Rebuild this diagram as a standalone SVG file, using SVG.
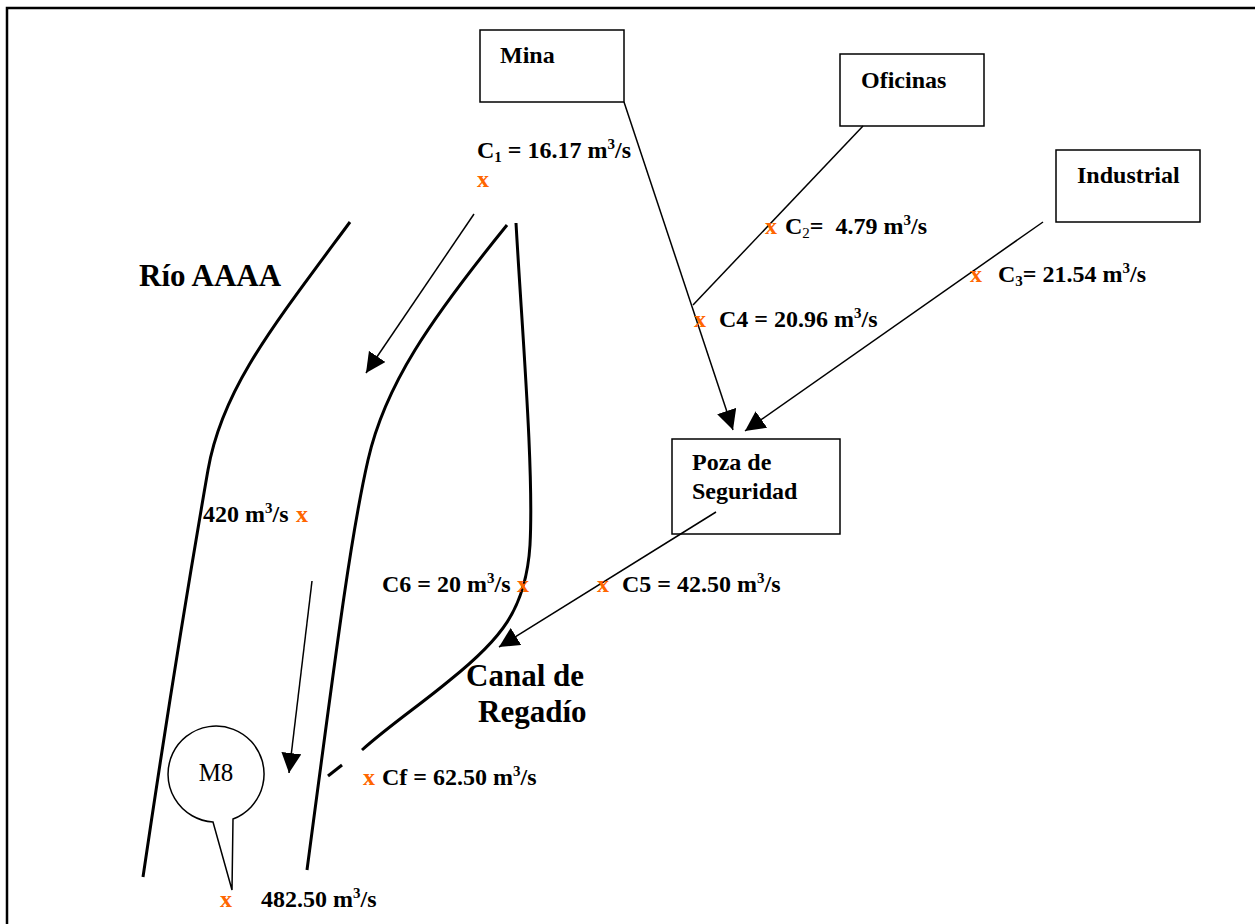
<svg xmlns="http://www.w3.org/2000/svg" width="1255" height="924" viewBox="0 0 1255 924">
<defs>
<style>
.box{fill:#fff;stroke:#000;stroke-width:1.5}
.lbl{font-family:"Liberation Serif","Times New Roman",serif;font-weight:bold;font-size:24px;fill:#000}
.big{font-family:"Liberation Serif","Times New Roman",serif;font-weight:bold;font-size:31px;fill:#000}
.x{font-family:"Liberation Serif","Times New Roman",serif;font-weight:bold;font-size:24px;fill:#ff6600}
.con{fill:none;stroke:#000;stroke-width:1.5}
.bank{fill:none;stroke:#000;stroke-width:3}
.sup{font-size:15px}
</style>
<marker id="ah" viewBox="0 0 10 10" refX="10" refY="5" markerWidth="20" markerHeight="20" markerUnits="userSpaceOnUse" orient="auto">
<path d="M0,0 L10,5 L0,10 z" fill="#000"/>
</marker>
</defs>
<rect width="1255" height="924" fill="#fff"/>
<path d="M7,924 L7,8 L1255,8" fill="none" stroke="#000" stroke-width="2.5"/>

<g id="river">
<path class="bank" d="M350,222 C270,330 222,390 208,470 C195,545 175,660 143,877"/>
<path class="bank" d="M507,225 C430,320 385,385 368,460 C352,530 340,620 307,870"/>
<path class="bank" d="M516,223 C522,330 534,470 530,545 C526,610 500,640 450,680 C420,705 390,725 362,750"/>
<path class="bank" d="M328,776 L342,765"/>
<text class="big" x="139" y="286">Río AAAA</text>
<text class="big" x="466" y="686">Canal de</text>
<text class="big" x="478" y="722">Regadío</text>
</g>

<g id="mina">
<rect class="box" x="480" y="30" width="144" height="72"/>
<text class="lbl" x="500" y="63">Mina</text>
</g>
<g id="oficinas">
<rect class="box" x="840" y="54" width="144" height="72"/>
<text class="lbl" x="861" y="88">Oficinas</text>
</g>
<g id="industrial">
<rect class="box" x="1056" y="150" width="144" height="72"/>
<text class="lbl" x="1077" y="183">Industrial</text>
</g>
<g id="poza">
<rect class="box" x="672" y="439" width="168" height="95"/>
<text class="lbl" x="692" y="470">Poza de</text>
<text class="lbl" x="692" y="499">Seguridad</text>
</g>

<g id="m8">
<path d="M213,822 A48,48 0 1 1 233,819 L232,890 Z" fill="#fff" stroke="#000" stroke-width="1.5"/>
<text x="216" y="781" text-anchor="middle" font-family="Liberation Serif, Times New Roman, serif" font-size="25">M8</text>
</g>

<g id="connectors">
<path class="con" d="M624,102 L733,430" marker-end="url(#ah)"/>
<path class="con" d="M863,126 L693,305"/>
<path class="con" d="M1043,222 L745,431" marker-end="url(#ah)"/>
<path class="con" d="M716,512 L499,647" marker-end="url(#ah)"/>
<path class="con" d="M474,214 L366,373" marker-end="url(#ah)"/>
<path class="con" d="M312,581 L289,773" marker-end="url(#ah)"/>
</g>

<g id="labels">
<text class="lbl" x="477" y="158">C<tspan class="sup" dy="4">1</tspan><tspan dy="-4"> = 16.17 m</tspan><tspan class="sup" dy="-9">3</tspan><tspan dy="9">/s</tspan></text>
<text class="x" x="477" y="187">x</text>

<text class="x" x="765" y="234">x</text>
<text class="lbl" x="785" y="234">C<tspan class="sup" font-weight="normal" dy="4">2</tspan><tspan dy="-4" xml:space="preserve">=  4.79 m</tspan><tspan class="sup" dy="-9">3</tspan><tspan dy="9">/s</tspan></text>

<text class="x" x="694" y="327">x</text>
<text class="lbl" x="719" y="327">C4 = 20.96 m<tspan class="sup" dy="-9">3</tspan><tspan dy="9">/s</tspan></text>

<text class="x" x="970" y="282">x</text>
<text class="lbl" x="998" y="282">C<tspan class="sup" dy="4">3</tspan><tspan dy="-4">= 21.54 m</tspan><tspan class="sup" dy="-9">3</tspan><tspan dy="9">/s</tspan></text>

<text class="x" x="597" y="592">x</text>
<text class="lbl" x="622" y="592">C5 = 42.50 m<tspan class="sup" dy="-9">3</tspan><tspan dy="9">/s</tspan></text>

<text class="lbl" x="382" y="592">C6 = 20 m<tspan class="sup" dy="-9">3</tspan><tspan dy="9">/s</tspan></text>
<text class="x" x="517" y="592">x</text>

<text class="lbl" x="203" y="522">420 m<tspan class="sup" dy="-9">3</tspan><tspan dy="9">/s</tspan></text>
<text class="x" x="296" y="522">x</text>

<text class="x" x="363" y="785">x</text>
<text class="lbl" x="382" y="785">Cf = 62.50 m<tspan class="sup" dy="-9">3</tspan><tspan dy="9">/s</tspan></text>

<text class="x" x="220" y="907">x</text>
<text class="lbl" x="261" y="907" font-size="25">482.50 m<tspan class="sup" dy="-9">3</tspan><tspan dy="9">/s</tspan></text>
</g>
</svg>
